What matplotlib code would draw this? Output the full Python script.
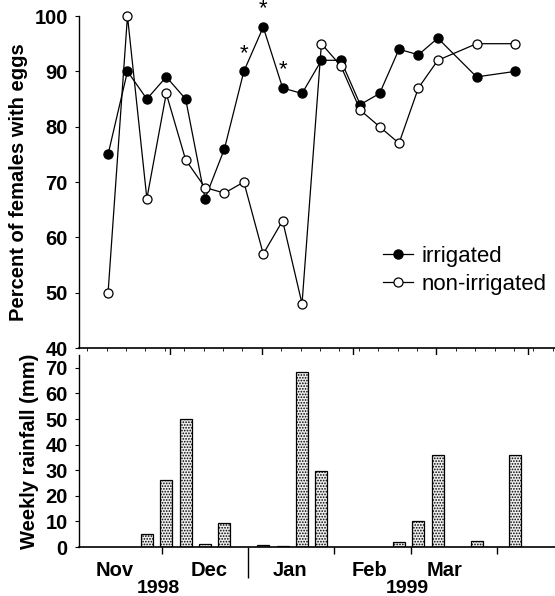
import numpy as np
import matplotlib.pyplot as plt

plt.rcParams['font.family'] = ['Liberation Sans', 'DejaVu Sans']
plt.rcParams['hatch.color'] = '#555555'
plt.rcParams['hatch.linewidth'] = 0.8

# sampling weeks (0 = 11 Nov 1998), days counted from 1 Nov 1998
weeks = [0, 1, 2, 3, 4, 5, 6, 7, 8, 9, 10, 11, 12, 13, 14, 15, 16, 17, 19, 21]
irrigated = [75, 90, 85, 89, 85, 67, 76, 90, 98, 87, 86, 92, 92, 84, 86, 94, 93, 96, 89, 90]
non_irrigated = [50, 100, 67, 86, 74, 69, 68, 70, 57, 63, 48, 95, 91, 83, 80, 77, 87, 92, 95, 95]
signif_weeks = [7, 8, 9]

rain_weeks = [2, 3, 4, 5, 6, 8, 9, 10, 11, 15, 16, 17, 19, 21]
rainfall = [5, 26, 50, 1, 9.5, 0.8, 0.5, 68.5, 29.5, 2, 10, 36, 2.5, 36]

month_names = ['Nov', 'Dec', 'Jan', 'Feb', 'Mar']
month_label_days = [13, 47, 76, 105, 132]
month_start_days = [30, 61, 92, 120, 151]
top_tick_days = [33, 66, 99, 129, 162]
years = ['1998', '1999']
year_days = [28.5, 118.5]

start_day = 10.5
days = start_day + 7 * np.array(weeks)
rain_days = start_day + 7 * np.array(rain_weeks)

fig = plt.figure(figsize=(5.55, 5.96), dpi=100)
ax1 = fig.add_axes([0.1423, 0.4161, 0.8577, 0.557])
ax2 = fig.add_axes([0.1423, 0.0822, 0.8577, 0.3221])

# --- top panel
ax1.plot(days, irrigated, '-o', color='black', lw=0.9, ms=6.5,
         mfc='black', mec='black', label='irrigated', clip_on=False, zorder=3)
ax1.plot(days, non_irrigated, '-o', color='black', lw=0.9, ms=6.5,
         mfc='white', mec='black', mew=0.9, label='non-irrigated', clip_on=False, zorder=3)

for w in signif_weeks:
    i = weeks.index(w)
    ax1.annotate('*', (days[i], irrigated[i]), xytext=(0, 13), textcoords='offset points',
                 ha='center', va='center', fontsize=16, annotation_clip=False)

ax1.set_ylim(40, 100)
ax1.set_xlim(0, 171.8)
ax1.set_yticks(range(40, 101, 10))
ax1.set_xticks(top_tick_days)
ax1.set_xticks(np.arange(3, 172, 7), minor=True)
ax1.set_xticklabels([])
ax1.set_ylabel('Percent of females with eggs', fontsize=14.5, fontweight='bold', labelpad=5)

leg = ax1.legend(loc='upper left', bbox_to_anchor=(0.62, 0.334), frameon=False,
                 fontsize=16, handlelength=1.35, handletextpad=0.4, labelspacing=0.3,
                 borderaxespad=0)

# --- bottom panel
ax2.bar(rain_days, rainfall, width=4.3, facecolor='#eeeeee', edgecolor='black',
        linewidth=0.9, hatch='......', zorder=2)
ax2.set_ylim(0, 75)
ax2.set_xlim(0, 171.8)
ax2.set_yticks(range(0, 71, 10))
ax2.set_xticks(month_start_days)
ax2.set_xticklabels([''] * len(month_start_days))
ax2.set_xticks(month_label_days, month_names, minor=True)
ax2.tick_params(axis='x', which='minor', length=0, pad=10, labelsize=14.5)
ax2.set_ylabel('Weekly rainfall (mm)', fontsize=14.5, fontweight='bold', labelpad=5)
for lab in ax2.get_xticklabels(minor=True):
    lab.set_fontweight('bold')

for y, d in zip(years, year_days):
    ax2.text(d, -0.215, y, transform=ax2.get_xaxis_transform(), ha='center', va='center',
             fontsize=14, fontweight='bold')

for ax in (ax1, ax2):
    ax.spines['top'].set_visible(False)
    ax.spines['right'].set_visible(False)
    ax.spines['left'].set_linewidth(1.0)
    ax.spines['bottom'].set_linewidth(1.2)
    ax.tick_params(axis='y', direction='out', length=3, width=0.8, pad=5, labelsize=14.5)
    ax.tick_params(axis='x', which='major', direction='out', length=5, width=1.0)
    for lab in ax.get_yticklabels():
        lab.set_fontweight('bold')

ax1.tick_params(axis='x', which='minor', direction='out', length=2, width=0.6)

# long separator tick at the year change
ax2.xaxis.get_major_ticks()[1].tick1line.set_markersize(22)

fig.savefig('out.png', dpi=100)
